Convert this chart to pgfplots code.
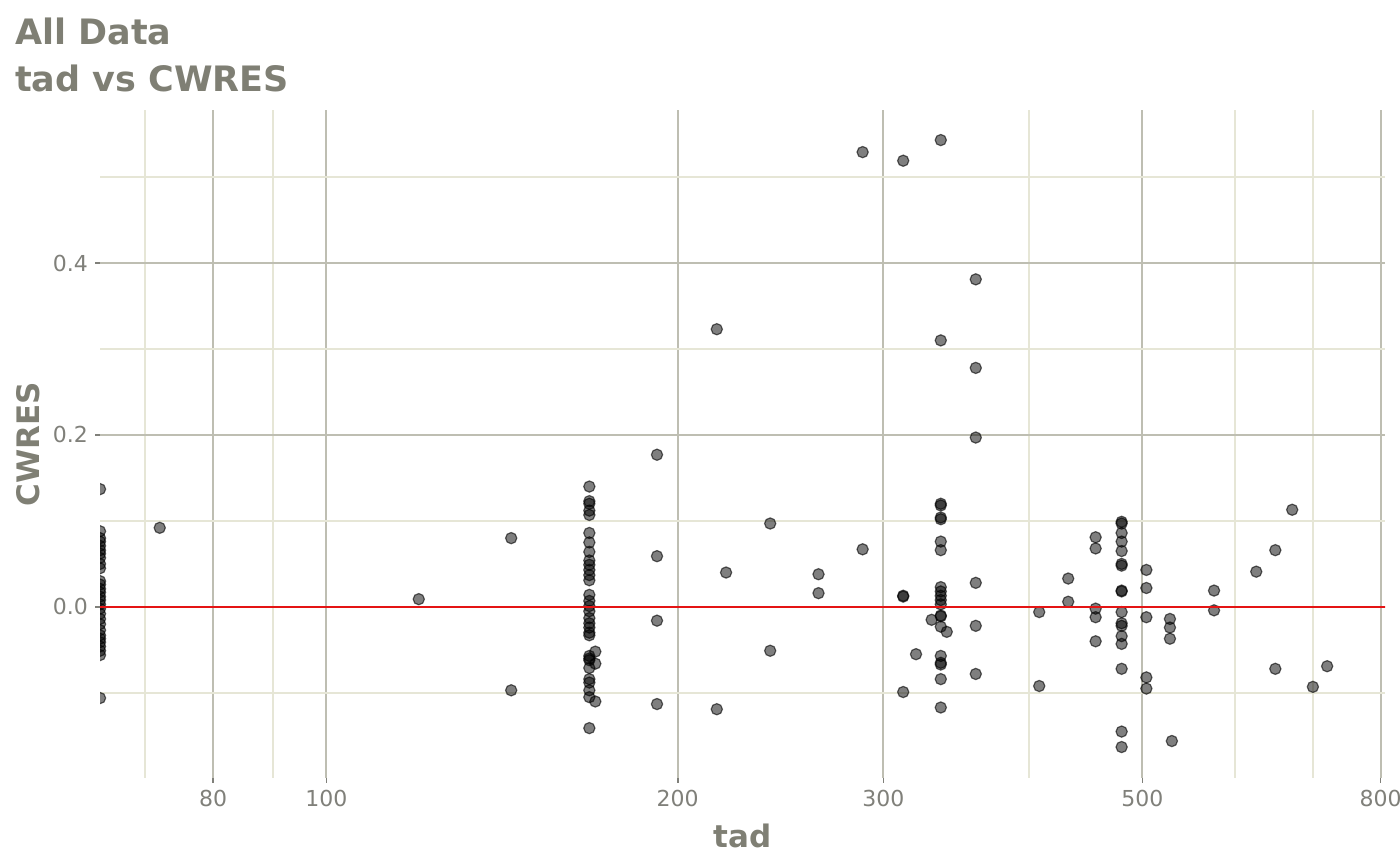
\documentclass[border=0pt]{standalone}
\usepackage{fontspec}
\setmainfont{DejaVu Sans}
\usepackage{pgfplots}
\pgfplotsset{compat=1.18}
\usepackage{pgfplotstable}
\definecolor{txt}{RGB}{127,127,116}
\definecolor{tck}{RGB}{128,128,122}
\definecolor{gmaj}{RGB}{190,190,178}
\definecolor{gmin}{RGB}{230,230,214}
\definecolor{zline}{RGB}{228,20,20}
\pgfplotstableread{
x y
64 0.137
64 0.088
64 0.080
64 0.076
64 0.071
64 0.066
64 0.062
64 0.057
64 0.050
64 0.045
64 0.030
64 0.026
64 0.021
64 0.017
64 0.012
64 0.008
64 0.003
64 -0.002
64 -0.008
64 -0.014
64 -0.020
64 -0.027
64 -0.033
64 -0.037
64 -0.041
64 -0.046
64 -0.051
64 -0.056
64 -0.106
72 0.092
120 0.009
144 0.080
144 -0.097
168 0.140
168 0.123
168 0.120
168 0.112
168 0.107
168 0.086
168 0.075
168 0.064
168 0.054
168 0.049
168 0.043
168 0.037
168 0.031
168 0.014
168 0.007
168 0.001
168 -0.005
168 -0.013
168 -0.019
168 -0.024
168 -0.030
168 -0.033
168 -0.057
168 -0.060
168 -0.062
168 -0.071
168 -0.084
168 -0.088
168 -0.097
168 -0.105
168 -0.141
170 -0.052
170 -0.066
170 -0.110
192 0.177
192 0.059
192 -0.016
192 -0.113
216 0.323
216 -0.119
220 0.040
240 0.097
240 -0.051
264 0.038
264 0.016
288 0.529
288 0.067
312 0.519
312 0.013
312 0.012
312 -0.099
320 -0.055
330 -0.015
336 0.543
336 0.310
336 0.120
336 0.118
336 0.104
336 0.102
336 0.076
336 0.066
336 0.023
336 0.018
336 0.013
336 0.008
336 0.003
336 -0.010
336 -0.011
336 -0.023
336 -0.057
336 -0.065
336 -0.067
336 -0.084
336 -0.117
340 -0.029
360 0.381
360 0.278
360 0.197
360 0.028
360 -0.022
360 -0.078
408 -0.006
408 -0.092
432 0.033
432 0.006
456 0.081
456 0.068
456 -0.002
456 -0.012
456 -0.040
480 0.099
480 0.097
480 0.086
480 0.076
480 0.065
480 0.050
480 0.048
480 0.019
480 0.018
480 -0.006
480 -0.019
480 -0.022
480 -0.034
480 -0.043
480 -0.072
480 -0.145
480 -0.163
504 0.043
504 0.022
504 -0.012
504 -0.082
504 -0.095
528 -0.014
528 -0.024
528 -0.037
530 -0.156
576 0.019
576 -0.004
626 0.041
650 0.066
650 -0.072
672 0.113
700 -0.093
720 -0.069
}\pts
\begin{document}
\begin{tikzpicture}
\path[use as bounding box] (-50pt,-43.5pt) rectangle (650pt,389pt);
\begin{axis}[
  at={(0,0)}, anchor=south west,
  scale only axis, width=642.5pt, height=334pt,
  xmode=log, xmin=64, xmax=807,
  ymin=-0.199, ymax=0.578,
  xtick={80,100,200,300,500,800},
  xticklabels={80,100,200,300,500,800},
  minor xtick={70,90,400,600,700},
  ytick={0,0.2,0.4},
  yticklabels={0.0,0.2,0.4},
  minor ytick={-0.1,0.1,0.3,0.5},
  grid=both,
  major grid style={draw=gmaj, line width=1pt},
  minor grid style={draw=gmin, line width=1pt},
  axis line style={draw=none},
  tick align=outside,
  major tick length=2.5pt,
  minor tick length=0pt,
  tick style={draw=tck, line width=0.8pt},
  xtick pos=bottom, ytick pos=left,
  /pgf/number format/assume math mode=true,
  ticklabel style={font=\fontsize{11}{13}\selectfont, text=tck},
  xticklabel style={yshift=0pt},
  yticklabel style={xshift=0pt},
  clip=true, clip marker paths=true,
]
\addplot[only marks, mark=*, mark size=2.8pt,
  mark options={draw=black, fill=black, fill opacity=0.5, draw opacity=0.6, line width=0.6pt}]
  table[x=x,y=y] {\pts};
\addplot[zline, line width=1.3pt] coordinates {(60,0) (900,0)};
\end{axis}
\node[anchor=base west, text=txt, font=\fontsize{17.5}{20}\selectfont\bfseries] at (-46pt,366.5pt) {All Data};
\node[anchor=base west, text=txt, font=\fontsize{17.5}{20}\selectfont\bfseries] at (-46pt,343pt) {tad vs CWRES};
\node[anchor=base, text=txt, font=\fontsize{15.5}{18}\selectfont\bfseries] at (321.25pt,-35pt) {tad};
\node[anchor=base, rotate=90, text=txt, font=\fontsize{15.5}{18}\selectfont\bfseries] at (-30pt,167pt) {CWRES};
\end{tikzpicture}
\end{document}
